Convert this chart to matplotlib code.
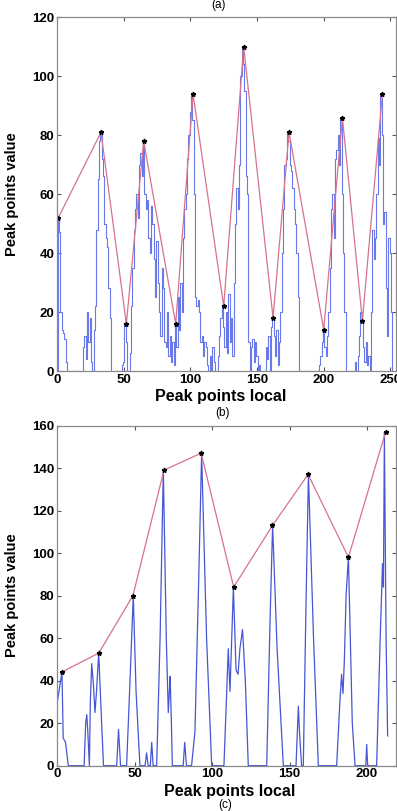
import numpy as np
import matplotlib.pyplot as plt

# (a)/(b) upper panel: raw signal (one value per sample) and detected peaks
sig_top = [0, 52, 47, 20, 14, 13, 11, 3, 0, 0,
           0, 0, 0, 0, 0, 0, 0, 0, 0, 0,
           8, 12, 4, 20, 10, 18, 3, 0, 14, 22,
           48, 65, 78, 81, 72, 66, 50, 45, 42, 28,
           18, 0, 0, 0, 0, 0, 0, 0, 0, 2,
           3, 16, 10, 0, 0, 6, 22, 35, 48, 55,
           60, 52, 70, 74, 66, 78, 60, 55, 58, 45,
           40, 56, 50, 38, 25, 44, 30, 20, 12, 35,
           28, 10, 8, 20, 5, 12, 3, 10, 2, 16,
           8, 25, 14, 30, 20, 45, 55, 60, 72, 80,
           88, 94, 85, 60, 25, 22, 24, 20, 10, 12,
           5, 10, 8, 2, 0, 5, 0, 8, 3, 0,
           0, 5, 12, 18, 22, 15, 8, 20, 6, 26,
           10, 18, 5, 30, 50, 62, 55, 70, 100, 110,
           104, 95, 66, 60, 10, 0, 8, 11, 3, 10,
           5, 0, 2, 0, 0, 0, 0, 8, 4, 12,
           0, 15, 18, 12, 5, 14, 2, 10, 20, 40,
           55, 70, 72, 81, 78, 70, 68, 62, 55, 50,
           40, 25, 0, 0, 0, 0, 0, 0, 0, 0,
           0, 0, 0, 0, 0, 0, 0, 2, 5, 10,
           14, 8, 5, 12, 20, 35, 55, 60, 45, 72,
           75, 80, 70, 86, 60, 40, 20, 0, 0, 0,
           0, 0, 0, 0, 3, 0, 5, 12, 20, 17,
           8, 3, 10, 2, 5, 0, 20, 48, 38, 45,
           60, 79, 70, 94, 80, 50, 54, 28, 12, 45,
           40, 20, 0, 0]
peak_x_top = [1, 33, 52, 65, 89, 102, 125, 140, 162, 174, 200, 214, 229, 244]
peak_y_top = [52, 81, 16, 78, 16, 94, 22, 110, 18, 81, 14, 86, 17, 94]

# (c) lower panel: smoothed signal and detected peaks
sig_x_bot = [0, 1.5, 3.2, 4, 5.5, 7.3, 17.5, 18.5, 19.2, 19.8, 20.9, 21.5, 22.4,
             23.5, 24.5, 25.5, 26.9, 28.5, 30, 38.5, 39.7, 41, 44.9, 47, 49.2,
             51, 53.5, 56.8, 57.8, 58.8, 60.2, 61.1, 62, 64.3, 66.5, 68.6, 70.5,
             71.8, 72.5, 73, 73.8, 74.4, 81.4, 82.4, 83.5, 86.8, 89, 91.5, 93.3,
             96.5, 99.8, 107.7, 109.5, 110.5, 111.6, 113.8, 115.5, 116.8, 118,
             119.7, 121.5, 123.4, 135.3, 137.5, 139.1, 142, 146, 154.2, 155.7,
             156.5, 157.8, 158.9, 160.5, 162.2, 165.5, 168.6, 180.4, 182.5,
             183.6, 184.5, 185.4, 186.5, 188, 190.5, 192.3, 199.2, 199.8, 200.4,
             206.2, 208.5, 210, 210.6, 211.2, 212.3, 213.3]
sig_y_bot = [29, 36, 44, 13, 11, 0, 0, 20, 24, 17, 0, 30, 48,
             38, 25, 35, 53, 25, 0, 0, 17, 0, 0, 38, 80,
             35, 0, 0, 6, 0, 0, 11, 0, 0, 60, 139, 60,
             25, 35, 42, 20, 0, 0, 11, 0, 0, 16, 90, 147,
             60, 0, 0, 35, 55, 35, 84, 45, 43, 55,
             64, 40, 0, 0, 70, 113, 55, 0, 0, 28,
             15, 0, 0, 70, 137, 60, 0, 0, 30,
             43, 34, 50, 80, 98, 20, 0, 0, 10, 0,
             0, 60, 95, 84, 157, 60, 14]
peak_x_bot = [3, 27, 49, 69, 93, 114, 139, 162, 188, 212]
peak_y_bot = [44, 53, 80, 139, 147, 84, 113, 137, 98, 157]

W, H = 397, 811
fig = plt.figure(figsize=(W / 100, H / 100), dpi=100)
plt.rcParams['font.family'] = ['Liberation Sans', 'DejaVu Sans']

blue_top = '#6a79e8'
blue_bot = '#4656d4'
red = '#d6728e'


def style(ax, xt, yt):
    ax.set_xticks(xt)
    ax.set_yticks(yt)
    ax.tick_params(direction='in', length=3, width=0.8, top=True, right=True,
                   labelsize=9.5, pad=2, color='#555555')
    for lab in ax.get_xticklabels() + ax.get_yticklabels():
        lab.set_fontweight('bold')
    for s in ax.spines.values():
        s.set_color('#8a8a8a')
        s.set_linewidth(0.9)


# upper panel
ax1 = fig.add_axes([57 / W, 1 - 371 / H, 339 / W, 353.7 / H])
ax1.plot(np.arange(len(sig_top)), sig_top, color=blue_top, lw=0.8,
         drawstyle='steps-mid')
ax1.plot(peak_x_top, peak_y_top, color=red, lw=0.9)
ax1.plot(peak_x_top, peak_y_top, ls='none', marker='*', color='black', ms=3.5)
ax1.set_xlim(0, 254.2)
ax1.set_ylim(0, 120)
style(ax1, [0, 50, 100, 150, 200, 250], [0, 20, 40, 60, 80, 100, 120])
ax1.set_xlabel('Peak points local', fontsize=11.5, fontweight='bold')
ax1.xaxis.set_label_coords(0.484, -0.05)
ax1.set_ylabel('Peak points value', fontsize=10.5, fontweight='bold')
ax1.yaxis.set_label_coords(-0.112, 0.5)

# lower panel
ax2 = fig.add_axes([57 / W, 1 - 765.7 / H, 339 / W, 340.2 / H])
ax2.plot(sig_x_bot, sig_y_bot, color=blue_bot, lw=0.9)
ax2.plot(peak_x_bot, peak_y_bot, color=red, lw=0.9)
ax2.plot(peak_x_bot, peak_y_bot, ls='none', marker='*', color='black', ms=3.5)
ax2.set_xlim(0, 218.7)
ax2.set_ylim(0, 160)
style(ax2, [0, 50, 100, 150, 200], [0, 20, 40, 60, 80, 100, 120, 140, 160])
ax2.set_xlabel('Peak points local', fontsize=11.5, fontweight='bold')
ax2.xaxis.set_label_coords(0.509, -0.054)
ax2.set_ylabel('Peak points value', fontsize=10.5, fontweight='bold')
ax2.yaxis.set_label_coords(-0.112, 0.5)

fig.text(218 / W, 1 - 5 / H, '(a)', ha='center', va='center', fontsize=8.5)
fig.text(222 / W, 1 - 413 / H, '(b)', ha='center', va='center', fontsize=8.5)
fig.text(225 / W, 1 - 805 / H, '(c)', ha='center', va='center', fontsize=8.5)

fig.savefig('out.png', dpi=100)
